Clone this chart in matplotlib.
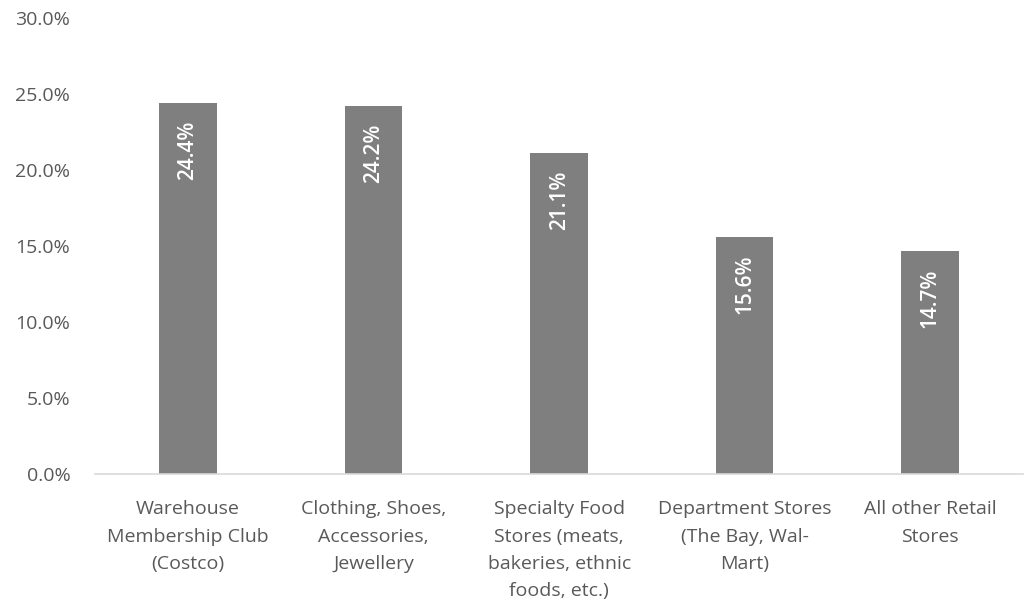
import matplotlib.pyplot as plt
from matplotlib.ticker import FuncFormatter

categories = [
    "Warehouse\nMembership Club\n(Costco)",
    "Clothing, Shoes,\nAccessories,\nJewellery",
    "Specialty Food\nStores (meats,\nbakeries, ethnic\nfoods, etc.)",
    "Department Stores\n(The Bay, Wal-\nMart)",
    "All other Retail\nStores",
]
shares = [24.4, 24.2, 21.1, 15.6, 14.7]
y_ticks = [0, 5, 10, 15, 20, 25, 30]

plt.rcParams['font.family'] = ['Open Sans', 'DejaVu Sans']

fig = plt.figure(figsize=(10.25, 6.1), dpi=100)
ax = fig.add_axes([0.093, 0.223, 0.905, 0.747])

x = range(len(categories))
bars = ax.bar(x, shares, width=0.31, color='#7f7f7f', zorder=2)

# value labels, rotated, just inside the top of each bar
for b, v in zip(bars, shares):
    ax.text(b.get_x() + b.get_width() / 2, v - 1.15, f"{v:.1f}%",
            rotation=90, ha='center', va='top', color='white',
            fontsize=15, fontweight='semibold')

ax.set_xlim(-0.5, len(categories) - 0.5)
ax.set_ylim(0, 30)
ax.set_yticks(y_ticks)
ax.yaxis.set_major_formatter(FuncFormatter(lambda v, p: f"{v:.1f}%"))
ax.set_xticks(list(x))
ax.set_xticklabels(categories, fontsize=14, color='#595959', linespacing=1.66)
ax.tick_params(axis='y', labelsize=14, labelcolor='#595959', length=0, pad=18)
ax.tick_params(axis='x', length=0, pad=19)

for s in ['top', 'right', 'left']:
    ax.spines[s].set_visible(False)
ax.spines['bottom'].set_color('#d9d9d9')
ax.spines['bottom'].set_linewidth(1.2)

fig.savefig('out.png', dpi=100)
